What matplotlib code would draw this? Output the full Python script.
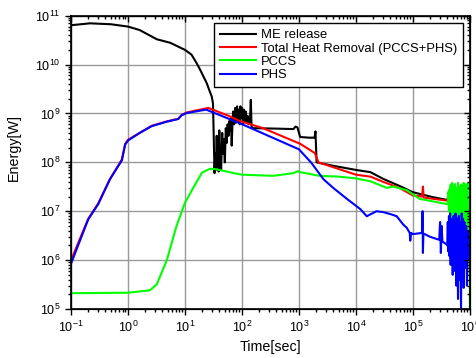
import numpy as np
import matplotlib
matplotlib.use('Agg')
import matplotlib.pyplot as plt

plt.rcParams['font.family'] = ['Liberation Sans', 'DejaVu Sans']
plt.rcParams['axes.unicode_minus'] = False

# ---- data (log-log) ----
me_t = [0.1, 0.215, 0.5, 1.0, 1.6, 3.2, 5.5, 10, 13, 16, 18.5, 24, 29.5, 31,
        32, 33, 34, 35, 36, 37, 38, 39, 40, 41, 42, 43, 45, 46, 48, 50, 52, 54,
        56, 58, 60, 62, 64, 66, 68, 70, 73, 76, 79, 82, 85, 88, 91, 94, 97, 100,
        104, 108, 112, 116, 120, 125, 130, 138, 143, 147, 152, 170, 400, 800,
        870, 940, 1050, 1500, 1880, 1950, 2040, 4000, 1e4, 1.8e4, 3e4, 5.8e4,
        1e5, 2.2e5, 4e5, 5e5]
me_e = [6.4e10, 7e10, 6.7e10, 6e10, 5.1e10, 3.3e10, 2.8e10, 2e10, 1.6e10, 1.07e10, 7.8e9, 4.2e9, 2.2e9, 1.6e9,
        3e8, 6e7, 1.5e8, 7e7, 3.5e8, 8e7, 2.5e8, 6.5e7, 4.5e8, 9e7, 2e8, 7e7, 4e8, 1.5e8, 3e8, 1e8, 5e8, 2.5e8,
        6e8, 3.5e8, 7e8, 4.5e8, 8e8, 2.2e8, 6e8, 1.1e9, 6e8, 1.3e9, 6.5e8, 1.4e9, 7e8, 1.2e9, 6e8, 1.4e9, 8e8, 1.3e9,
        6e8, 1.2e9, 7e8, 1.1e9, 6.5e8, 9e8, 6e8, 7e8, 1.9e9, 5.5e8, 5e8, 5e8, 4.9e8, 4.8e8,
        5.4e8, 5.2e8, 3.3e8, 3.2e8, 3.2e8, 4.3e8, 1e8, 8.5e7, 7e7, 6.3e7, 4.6e7, 3.3e7,
        2.45e7, 1.95e7, 1.7e7, 1.6e7]

tot_t = [0.1, 0.2, 0.3, 0.48, 0.78, 0.89, 1.0, 1.6, 2.6, 4.8, 7.6, 8.7, 10.7, 25.7,
         62, 92, 235, 1050, 1900, 2200, 1e4, 1.8e4, 3e4, 5.8e4, 1e5, 1.45e5, 1.5e5, 1.55e5,
         2.2e5, 4e5, 4.3e5, 4.4e5, 4.6e5, 4.8e5, 5e5, 5.3e5, 5.6e5, 6e5, 6.5e5, 7e5,
         7.5e5, 8e5, 8.5e5, 9e5, 9.5e5, 1e6]
tot_e = [1.0e6, 7e6, 1.45e7, 4.5e7, 1.15e8, 2.4e8, 2.9e8, 4e8, 5.6e8, 6.9e8, 7.8e8, 9.3e8, 1.05e9, 1.3e9,
         8.7e8, 7e8, 5e8, 2.4e8, 1.55e8, 1.0e8, 5.6e7, 5.1e7, 4e7, 3e7, 2.1e7, 2e7, 3.2e7, 1.9e7,
         1.8e7, 1.65e7, 2.5e7, 1.5e7, 3e7, 1.2e7, 2.8e7, 1.3e7, 3e7, 1.2e7, 3.2e7, 1.4e7,
         3.3e7, 1.3e7, 3.4e7, 1.5e7, 3.5e7, 3.2e7]

pccs_t = [0.1, 1.0, 2.4, 3.2, 4.8, 7.1, 10, 16, 20, 27.5, 36, 60, 98, 350, 800, 950, 1050,
          2300, 5000, 1e4, 1.8e4, 3.5e4, 4.5e4, 7.8e4, 1.3e5, 3.9e5,
          4.1e5, 4.2e5, 4.3e5, 4.4e5, 4.5e5, 4.6e5, 4.75e5, 4.9e5, 5.05e5, 5.2e5, 5.35e5,
          5.5e5, 5.65e5, 5.8e5, 6.0e5, 6.2e5, 6.4e5, 6.6e5, 6.8e5, 7.0e5, 7.2e5, 7.4e5,
          7.6e5, 7.8e5, 8.0e5, 8.2e5, 8.4e5, 8.6e5, 8.8e5, 9.0e5, 9.2e5, 9.4e5, 9.6e5,
          9.8e5, 9.95e5, 1e6]
pccs_e = [2.1e5, 2.15e5, 2.4e5, 3.2e5, 1e6, 5e6, 1.5e7, 4e7, 6.2e7, 7.4e7, 7.2e7, 6.3e7, 5.6e7, 5.3e7, 6e7, 6.6e7, 6.3e7,
          5.3e7, 5.1e7, 4.7e7, 4.1e7, 3e7, 3.2e7, 2.7e7, 1.8e7, 1.4e7,
          1.4e7, 2.5e7, 1.0e7, 2.8e7, 8e6, 3.5e7, 6e6, 3.8e7, 7e6, 3.2e7, 5e6,
          3.6e7, 9e6, 3e7, 5e6, 3.8e7, 7e6, 3.2e7, 4e6, 3.5e7, 8e6, 3e7,
          5e6, 3.8e7, 4e6, 3.3e7, 6e6, 3.6e7, 3.6e6, 3e7, 6e6, 3.8e7, 4e6,
          3.5e7, 2.5e6, 1e5]

phs_t = [0.1, 0.2, 0.3, 0.48, 0.78, 0.89, 1.0, 1.6, 2.6, 4.8, 7.6, 8.7, 10.7, 23.5,
         92, 1000, 1650, 2700, 4000, 6900, 1.2e4, 1.55e4, 2.3e4, 3e4, 4.2e4, 5.2e4,
         6.8e4, 7.8e4, 8.8e4, 9.0e4, 9.3e4, 1e5, 1.45e5, 1.48e5, 1.5e5, 1.53e5, 2e5,
         2.9e5, 3.0e5, 3.1e5, 3.2e5, 3.3e5, 3.9e5,
         4.0e5, 4.1e5, 4.2e5, 4.3e5, 4.4e5, 4.5e5, 4.6e5, 4.7e5, 4.8e5, 4.9e5, 5.0e5,
         5.2e5, 5.4e5, 5.6e5, 5.8e5, 6.0e5, 6.2e5, 6.4e5, 6.6e5, 6.8e5, 7.0e5, 7.2e5,
         7.4e5, 7.6e5, 7.8e5, 8.0e5, 8.3e5, 8.6e5, 8.9e5, 9.2e5, 9.5e5, 9.8e5]
phs_e = [8.5e5, 6.8e6, 1.4e7, 4.5e7, 1.1e8, 2.3e8, 2.8e8, 4e8, 5.5e8, 6.8e8, 7.7e8, 9.2e8, 1.02e9, 1.2e9,
         6.3e8, 1.85e8, 9.8e7, 4.5e7, 3e7, 1.8e7, 1.1e7, 7.9e6, 1e7, 9.6e6, 8.6e6, 7.9e6,
         5.3e6, 4.6e6, 3.6e6, 2.5e6, 3.6e6, 3.4e6, 3.6e6, 1e7, 1.4e6, 3.5e6, 3e6,
         2.6e6, 6e6, 1.4e6, 5e6, 2.4e6, 2.1e6,
         2e6, 6e6, 1.5e6, 8e6, 1.2e6, 9e6, 8e5, 7e6, 1e6, 6e6, 5e5,
         8e6, 6e5, 9e6, 3e5, 7e6, 1.6e5, 8e6, 4e5, 6e6, 1.05e5, 9e6,
         5e5, 7e6, 2.7e5, 6e6, 7e5, 5e6, 3e5, 4e6, 1e6, 2e6]

fig = plt.figure(figsize=(4.77, 3.58), dpi=100)
ax = fig.add_axes([0.149, 0.137, 0.836, 0.819])

lw = 1.5
ax.plot(me_t, me_e, color='black', lw=lw, label='ME release')
ax.plot(tot_t, tot_e, color='#ff0000', lw=lw, label='Total Heat Removal (PCCS+PHS)')
ax.plot(pccs_t, pccs_e, color='#00ff00', lw=lw, label='PCCS')
ax.plot(phs_t, phs_e, color='#0000ff', lw=lw, label='PHS')

ax.set_xscale('log')
ax.set_yscale('log')
ax.set_xlim(0.1, 1e6)
ax.set_ylim(1e5, 1e11)
ax.grid(True, which='major', color='#999999', lw=1)
ax.tick_params(which='both', direction='out', width=1, labelsize=9)
ax.tick_params(which='major', length=4)
ax.tick_params(which='minor', length=2.5)
for s in ax.spines.values():
    s.set_linewidth(1.2)

# mirrored ticks (inward) on top and right
axr = ax.twinx()
axr.set_yscale('log')
axr.set_ylim(1e5, 1e11)
axr.tick_params(which='both', direction='in', labelright=False, width=1)
axr.tick_params(which='major', length=4)
axr.tick_params(which='minor', length=2.5)
axt = ax.twiny()
axt.set_xscale('log')
axt.set_xlim(0.1, 1e6)
axt.tick_params(which='both', direction='in', labeltop=False, width=1)
axt.tick_params(which='major', length=4)
axt.tick_params(which='minor', length=2.5)
axt.xaxis.set_minor_locator(matplotlib.ticker.LogLocator(subs=np.arange(2, 10), numticks=20))
axr.yaxis.set_minor_locator(matplotlib.ticker.LogLocator(subs=np.arange(2, 10), numticks=20))
ax.xaxis.set_minor_locator(matplotlib.ticker.LogLocator(subs=np.arange(2, 10), numticks=20))
ax.yaxis.set_minor_locator(matplotlib.ticker.LogLocator(subs=np.arange(2, 10), numticks=20))

ax.set_xlabel('Time[sec]', fontsize=10.3)
ax.set_ylabel('Energy[W]', fontsize=10.3)
ax.yaxis.set_label_coords(-0.125, 0.552)

leg = ax.legend(loc='upper right', bbox_to_anchor=(0.982, 0.975), fontsize=9.4,
                frameon=True, fancybox=False, framealpha=1, edgecolor='black',
                borderpad=0.45, handlelength=2.7, handletextpad=0.38, labelspacing=0.1,
                borderaxespad=0)
leg.get_frame().set_linewidth(1)

fig.savefig('out.png', dpi=100)
